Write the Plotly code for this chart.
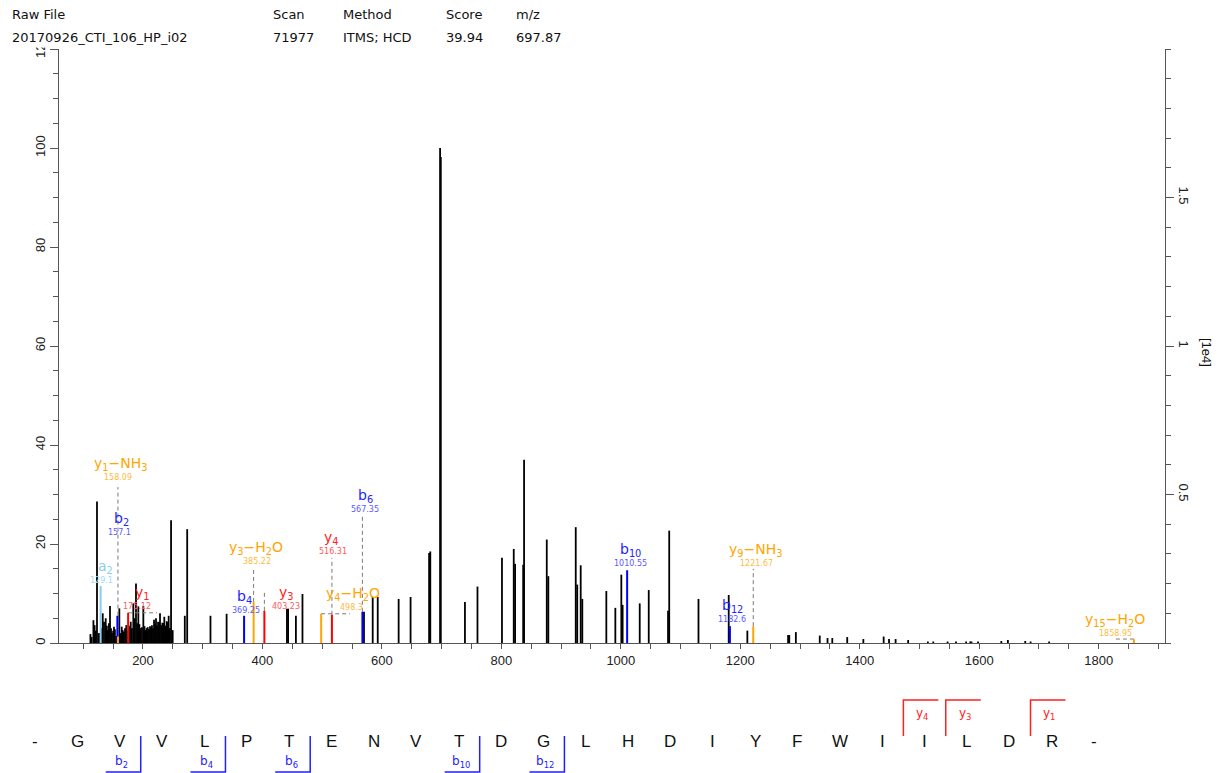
import plotly.graph_objects as go

# ---------------------------------------------------------------- canvas
W, H = 1225, 773
ML, MR, MT, MB = 59, 60, 49, 130
PW, PH = W - ML - MR, H - MT - MB

MZ_RANGE = [59.4, 1911.0]
REL_MAX = 120.0
BASE_PEAK = 16667.0            # absolute intensity of the 100 % peak

# ---------------------------------------------------------------- header
header_keys = ["Raw File", "Scan", "Method", "Score", "m/z"]
header_vals = ["20170926_CTI_106_HP_i02", "71977", "ITMS; HCD", "39.94", "697.87"]
header_cols = [10, 271, 341, 444, 514]

# ---------------------------------------------------------------- spectrum (unassigned peaks)
peak_mz = [112, 114, 117, 119, 121, 123, 126, 128, 130.5, 132.6, 134.8, 137.6, 139.5, 141,
           143, 144.8, 146.5, 148, 150, 151.5, 153, 155,
           160.4, 162.5, 164.4, 166, 168, 170, 172, 174, 176.5, 179.5, 181.5, 183.8, 186,
           188.3, 190.2, 192.2, 194, 196, 198.3, 200.6, 202.6, 204.6, 206.3, 208, 210,
           211.8, 213.4, 215, 216.8, 218.5, 220.2, 221.8, 223.5, 225.2, 227, 228.5, 230.4,
           232.4, 234, 235.7, 237.7, 239.7, 241.3, 243, 245, 247, 249.7,
           270, 274, 313, 340, 441, 443, 456, 467, 570, 584.6, 593, 628, 648, 679, 681,
           697.4, 698.6, 739, 760, 801, 820.7, 823, 836.5, 838, 876, 878.6, 924.5, 927,
           932.8, 935.5, 975.7, 990.8, 1000.8, 1003, 1031.6, 1046.7, 1079, 1081, 1130,
           1180.6, 1211.8, 1280, 1282, 1293, 1333, 1346, 1354, 1379, 1406, 1440, 1449,
           1460, 1481, 1514, 1523, 1547, 1561, 1578, 1585, 1587, 1598, 1637, 1648, 1677,
           1686, 1717]
peak_rel = [1.8, 1.2, 4.6, 3.6, 2.5, 28.6, 2.0, 2.0, 3.0, 6.0, 4.3, 5.0, 3.5, 2.6,
            4.0, 7.5, 3.0, 2.0, 2.5, 3.3, 2.8, 1.4,
            7.0, 2.0, 3.3, 2.6, 2.3, 3.0, 3.6, 2.5, 3.5, 4.3, 3.0, 8.0, 5.0,
            12.0, 4.0, 7.4, 3.8, 3.0, 3.2, 7.5, 3.4, 2.6, 3.0, 3.2, 2.8,
            3.4, 3.2, 3.6, 3.0, 4.7, 3.9, 5.0, 3.5, 4.3, 4.2, 6.0, 3.6,
            4.1, 4.0, 5.3, 3.5, 4.4, 4.2, 5.5, 3.0, 24.8, 2.6,
            5.5, 23.0, 5.5, 5.9, 6.9, 6.9, 5.5, 9.9, 6.3, 9.3, 9.3, 8.9, 9.3, 18.2, 18.5,
            100.0, 98.2, 8.3, 11.4, 17.2, 19.0, 16.0, 15.8, 37.0, 20.9, 13.5, 23.4, 11.8,
            15.7, 8.9, 10.5, 7.1, 13.8, 7.7, 8.0, 10.7, 6.5, 22.7, 8.9,
            9.7, 2.5, 1.6, 1.6, 2.2, 1.5, 1.0, 1.0, 1.2, 0.8, 1.3, 0.8,
            0.8, 0.6, 0.3, 0.3, 0.3, 0.3, 0.3, 0.3, 0.3, 0.3, 0.4, 0.6, 0.4,
            0.3, 0.3]

# ---------------------------------------------------------------- assigned fragment ions
ion_names = ["a2", "b2", "y1-NH3", "y1", "b4", "y3-H2O", "y3", "y4-H2O", "y4", "b6",
             "b10", "b12", "y9-NH3", "y15-H2O"]
ion_text = ["a<sub>2</sub>", "b<sub>2</sub>", "y<sub>1</sub>\u2212NH<sub>3</sub>",
            "y<sub>1</sub>", "b<sub>4</sub>", "y<sub>3</sub>\u2212H<sub>2</sub>O",
            "y<sub>3</sub>", "y<sub>4</sub>\u2212H<sub>2</sub>O", "y<sub>4</sub>",
            "b<sub>6</sub>", "b<sub>10</sub>", "b<sub>12</sub>",
            "y<sub>9</sub>\u2212NH<sub>3</sub>", "y<sub>15</sub>\u2212H<sub>2</sub>O"]
ion_mz = [129.1, 157.1, 158.09, 175.12, 369.25, 385.22, 403.23, 498.3, 516.31, 567.35,
          1010.55, 1182.6, 1221.67, 1858.95]
ion_rel = [11.5, 5.5, 1.3, 6.1, 5.5, 8.3, 6.5, 5.9, 5.7, 6.3, 14.7, 3.4, 3.4, 0.8]
ion_kind = ["a", "b", "loss", "y", "b", "loss", "y", "loss", "y", "b", "b", "b", "loss", "loss"]

# label anchor (m/z, relative intensity) of the ion name and of its m/z line
label_x = [136.5, 163.2, 163.2, 199.6, 369.2, 389.3, 439.5, 552.2, 516.0, 571.7,
           1016.6, 1186.7, 1225.9, 1827.3]
label_y = [15.4, 25.1, 36.2, 10.1, 9.3, 19.2, 10.2, 10.0, 21.2, 29.6,
           18.8, 7.5, 18.8, 4.6]
mzlab_x = [130.9, 160.4, 158.2, 189.5, 372.0, 391.0, 439.5, 549.5, 518.7, 571.7,
           1015.4, 1185.7, 1226.4, 1827.3]

# dashed leader lines: ("v", top) or ("h", end m/z)
leaders = {"y1-NH3": ("v", 31.5), "y3-H2O": ("v", 15.2), "y3": ("v", 10.3),
           "y4": ("v", 17.2), "b6": ("v", 25.5), "y9-NH3": ("v", 15.0),
           "y4-H2O": ("h", 546.6), "y1": ("h", 223.5), "y15-H2O": ("h", 1824.0)}

# ---------------------------------------------------------------- peptide sequence
peptide = "GVVLPTENVTDGLHDIYFWIILDR"
b_frags = [2, 4, 6, 10, 12]
y_frags = [4, 3, 1]

COL_LINE = {"a": "#87ceeb", "b": "#0000ff", "y": "#ff0000", "loss": "#ffa500"}
COL_LABEL = {"a": "#87ceeb", "b": "#2222ff", "y": "#ff2222", "loss": "#ffa500"}
COL_MZ = {"a": "#a3dbef", "b": "#5a5aff", "y": "#ff5a5a", "loss": "#ffbb40"}

TXT = "#111111"
AX = "#555555"


def fx(px):
    return (px - ML) / PW


def fy(py):
    return (H - MB - py) / PH


def sticks(xs, ys):
    sx, sy = [], []
    for m, h in zip(xs, ys):
        sx += [m, m, None]
        sy += [0, h, None]
    return sx, sy


fig = go.Figure()

sx, sy = sticks(peak_mz, peak_rel)
fig.add_trace(go.Scatter(x=sx, y=sy, mode="lines", line=dict(color="black", width=1.8),
                         hoverinfo="skip", showlegend=False))

# leader lines
for name, (kind, end) in leaders.items():
    i = ion_names.index(name)
    if kind == "v":
        lx, ly = [ion_mz[i], ion_mz[i]], [ion_rel[i], end]
    else:
        lx, ly = [ion_mz[i], end], [ion_rel[i], ion_rel[i]]
    fig.add_trace(go.Scatter(x=lx, y=ly, mode="lines",
                             line=dict(color="#7a7a7a", width=1, dash="4px,3px"),
                             hoverinfo="skip", showlegend=False))

# assigned peaks, drawn by ion type
for kind in ["a", "b", "y", "loss"]:
    idx = [i for i, k in enumerate(ion_kind) if k == kind]
    sx, sy = sticks([ion_mz[i] for i in idx], [ion_rel[i] for i in idx])
    fig.add_trace(go.Scatter(x=sx, y=sy, mode="lines", line=dict(color=COL_LINE[kind], width=2),
                             hoverinfo="skip", showlegend=False))

# absolute-intensity axis
fig.add_trace(go.Scatter(x=[None], y=[None], yaxis="y2", showlegend=False, hoverinfo="skip"))

ann = []
for i, name in enumerate(ion_names):
    k = ion_kind[i]
    ann.append(dict(x=label_x[i], y=label_y[i], xref="x", yref="y", text=ion_text[i],
                    showarrow=False, xanchor="center", yanchor="middle",
                    font=dict(family="DejaVu Sans", size=14, color=COL_LABEL[k])))
    ann.append(dict(x=mzlab_x[i], y=label_y[i], xref="x", yref="y", text=str(ion_mz[i]),
                    showarrow=False, xanchor="center", yanchor="middle", yshift=-13.5,
                    font=dict(family="DejaVu Sans", size=8, color=COL_MZ[k])))

# header block
for key, val, cx in zip(header_keys, header_vals, header_cols):
    ann.append(dict(x=fx(cx), y=fy(15), xref="paper", yref="paper", text=key, showarrow=False,
                    xanchor="left", yanchor="middle", font=dict(family="DejaVu Sans", size=13, color=TXT)))
    ann.append(dict(x=fx(cx), y=fy(37), xref="paper", yref="paper", text=val, showarrow=False,
                    xanchor="left", yanchor="middle", font=dict(family="DejaVu Sans", size=13, color=TXT)))

# right axis unit
ann.append(dict(x=fx(1207), y=fy(352), xref="paper", yref="paper", text="[1e4]", showarrow=False,
                textangle=90, xanchor="center", yanchor="middle",
                font=dict(family="Liberation Sans", size=13, color=TXT)))

# sequence ruler
SEQ_X0, SEQ_STEP, SEQ_Y = 34.8, 42.37, 741
tokens = ["-"] + list(peptide) + ["-"]
for i, t in enumerate(tokens):
    ann.append(dict(x=fx(SEQ_X0 + SEQ_STEP * i), y=fy(SEQ_Y), xref="paper", yref="paper",
                    text=t, showarrow=False, xanchor="center", yanchor="middle",
                    font=dict(family="Liberation Sans", size=17, color=TXT)))

shapes = []
for n in b_frags:
    xb = SEQ_X0 + SEQ_STEP * (n + 0.5)
    shapes.append(dict(type="path", xref="paper", yref="paper",
                       path=f"M {fx(xb)},{fy(736)} L {fx(xb)},{fy(772)} L {fx(xb - 35)},{fy(772)}",
                       line=dict(color="#2020ff", width=1.5)))
    ann.append(dict(x=fx(xb - 19), y=fy(762), xref="paper", yref="paper", text=f"b<sub>{n}</sub>",
                    showarrow=False, xanchor="center", yanchor="middle",
                    font=dict(family="DejaVu Sans", size=12, color="#2222ff")))
for n in y_frags:
    xy = SEQ_X0 + SEQ_STEP * (len(peptide) - n + 0.5)
    shapes.append(dict(type="path", xref="paper", yref="paper",
                       path=f"M {fx(xy)},{fy(736)} L {fx(xy)},{fy(700)} L {fx(xy + 35)},{fy(700)}",
                       line=dict(color="#ff2020", width=1.5)))
    ann.append(dict(x=fx(xy + 19), y=fy(714), xref="paper", yref="paper", text=f"y<sub>{n}</sub>",
                    showarrow=False, xanchor="center", yanchor="middle",
                    font=dict(family="DejaVu Sans", size=12, color="#ff2222")))

# header panel edge trims the topmost left tick label
shapes.append(dict(type="rect", xref="paper", yref="paper", x0=fx(0), x1=fx(57), y0=fy(47.5), y1=fy(0),
                   line=dict(width=0), fillcolor="white", layer="above"))

tick_font = dict(family="Liberation Sans", size=13, color="#222222")
fig.update_layout(
    width=W, height=H, margin=dict(l=ML, r=MR, t=MT, b=MB, pad=0),
    paper_bgcolor="white", plot_bgcolor="white", showlegend=False,
    xaxis=dict(range=MZ_RANGE, showgrid=False, zeroline=False, showline=True, linecolor=AX,
               linewidth=1, ticks="outside", ticklen=5, tickcolor=AX,
               tickvals=list(range(200, 1801, 200)), tickfont=tick_font,
               minor=dict(tickmode="linear", tick0=0, dtick=50, ticks="outside", ticklen=5, tickcolor=AX)),
    yaxis=dict(range=[0, REL_MAX], showgrid=False, zeroline=False, showline=True, linecolor=AX,
               linewidth=1, ticks="outside", ticklen=8, tickcolor=AX, tickangle=-90,
               tickvals=list(range(0, 121, 20)), tickfont=tick_font,
               minor=dict(tickmode="linear", tick0=0, dtick=5, ticks="outside", ticklen=5, tickcolor=AX)),
    yaxis2=dict(overlaying="y", side="right", range=[0, REL_MAX * BASE_PEAK / 100 / 1e4],
                showgrid=False, zeroline=False, showline=True, linecolor=AX, linewidth=1,
                ticks="outside", ticklen=8, tickcolor=AX, tickangle=90,
                tickvals=[0.5, 1, 1.5], ticktext=["0.5", "1", "1.5"], tickfont=tick_font,
                minor=dict(tickmode="linear", tick0=0, dtick=0.1, ticks="outside", ticklen=5, tickcolor=AX)),
    annotations=ann, shapes=shapes,
)

fig.write_html("out.html")
